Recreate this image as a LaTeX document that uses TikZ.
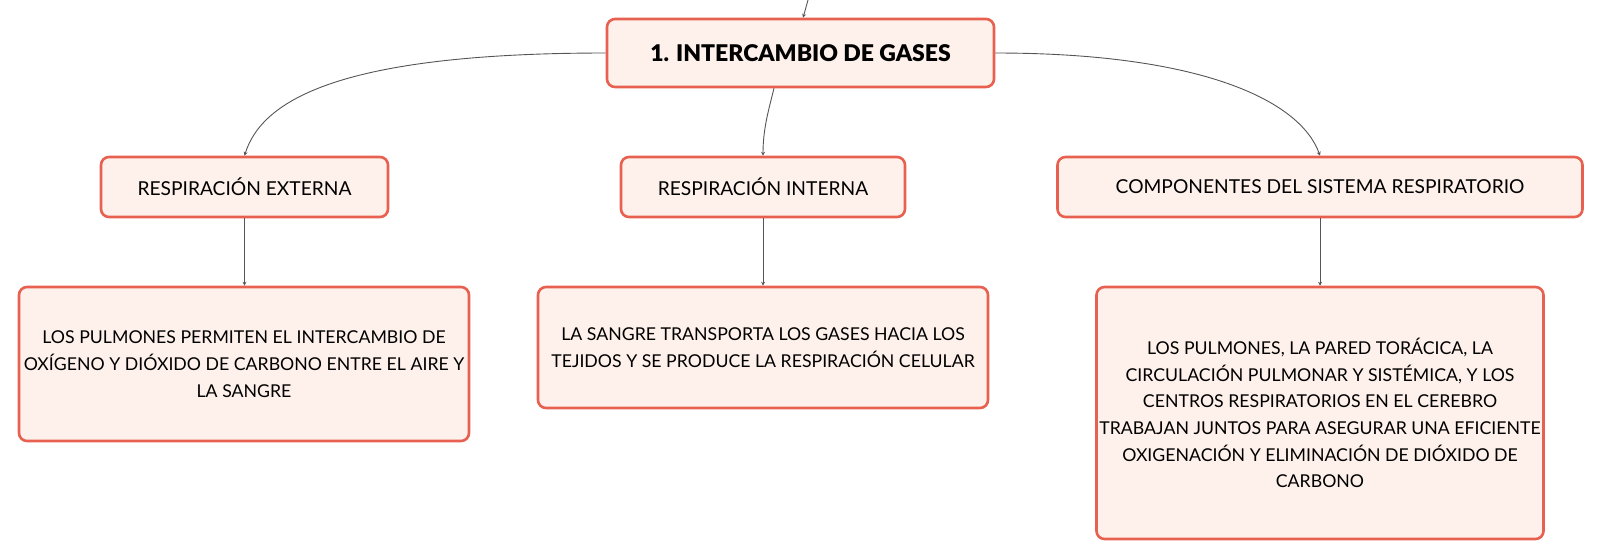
\documentclass[tikz,border=0pt]{standalone}
\usepackage{fontspec}
\setmainfont{Lato}
\newfontfamily\heavyfont{Lato Black}
\usetikzlibrary{arrows.meta}
\definecolor{boxborder}{HTML}{E8604F}
\definecolor{boxfill}{HTML}{FEF0EA}
\definecolor{linkgray}{HTML}{555555}
\tikzset{
  x=1pt,y=-1pt,
  box/.style={draw=boxborder, fill=boxfill, line width=2.6pt, rounded corners=8pt,
    inner sep=0pt, align=center, font=\fontsize{17.7}{26.7}\selectfont},
  labelbox/.style={box, font=\fontsize{19.2}{24}\selectfont},
  titlebox/.style={box, font=\fontsize{23}{26}\selectfont\heavyfont},
  link/.style={draw=linkgray, line width=0.9pt, -{Stealth[length=4pt,width=4pt]}},
}
\begin{document}
\begin{tikzpicture}
\useasboundingbox (0,0) rectangle (1602,558);
\node[titlebox, minimum width=387pt, minimum height=68pt] (title) at (800.5,53) {1. INTERCAMBIO DE GASES};
\node[labelbox, minimum width=287pt, minimum height=60pt] (ext) at (244.5,187) {RESPIRACIÓN EXTERNA};
\node[labelbox, minimum width=284pt, minimum height=60pt] (int) at (763,187) {RESPIRACIÓN INTERNA};
\node[labelbox, minimum width=525pt, minimum height=60pt] (comp) at (1320,187) {COMPONENTES DEL SISTEMA RESPIRATORIO};
\node[box, minimum width=450pt, minimum height=154pt] (extd) at (244,364)
  {LOS PULMONES PERMITEN EL INTERCAMBIO DE\\OXÍGENO Y DIÓXIDO DE CARBONO ENTRE EL AIRE Y\\LA SANGRE};
\node[box, minimum width=450pt, minimum height=121pt] (intd) at (763,347.5)
  {LA SANGRE TRANSPORTA LOS GASES HACIA LOS\\TEJIDOS Y SE PRODUCE LA RESPIRACIÓN CELULAR};
\node[box, minimum width=447pt, minimum height=252pt] (compd) at (1320,413)
  {LOS PULMONES, LA PARED TORÁCICA, LA\\CIRCULACIÓN PULMONAR Y SISTÉMICA, Y LOS\\CENTROS RESPIRATORIOS EN EL CEREBRO\\TRABAJAN JUNTOS PARA ASEGURAR UNA EFICIENTE\\OXIGENACIÓN Y ELIMINACIÓN DE DIÓXIDO DE\\CARBONO};
\coordinate (top) at (808,0);
\draw[link] (top) .. controls (806,8) .. (title.north -| 803,0);
\draw[link] (title.west) .. controls (340,53) and (262,100) .. (ext.north);
\draw[link] (title.south -| 774,0) .. controls (768,112) and (763,130) .. (int.north);
\draw[link] (title.east) .. controls (1200,53) and (1300,100) .. (comp.north);
\draw[link] (ext.south) -- (extd.north -| ext.south);
\draw[link] (int.south) -- (intd.north);
\draw[link] (comp.south) -- (compd.north);
\end{tikzpicture}
\end{document}
